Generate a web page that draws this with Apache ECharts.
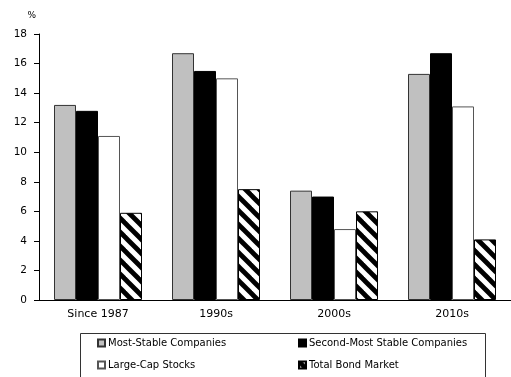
<!DOCTYPE html>
<html>
<head>
<meta charset="utf-8">
<script src="https://cdn.jsdelivr.net/npm/echarts@6/dist/echarts.min.js"></script>
<style>
html,body{margin:0;padding:0;background:#fff;}
#chart{width:511px;height:377px;}
</style>
</head>
<body>
<div id="chart"></div>
<script>
var categories = ['Since 1987', '1990s', '2000s', '2010s'];
var mostStable = [13.2, 16.7, 7.4, 15.3];
var secondMost = [12.8, 15.5, 7.0, 16.7];
var largeCap = [11.1, 15.0, 4.8, 13.1];
var bondMarket = [5.9, 7.5, 6.0, 4.1];
var seriesNames = ['Most-Stable Companies', 'Second-Most Stable Companies', 'Large-Cap Stocks', 'Total Bond Market'];
var yTicks = {min: 0, max: 18, interval: 2};

function makeHatch() {
  var s = 14;
  var c = document.createElement('canvas');
  c.width = s; c.height = s;
  var ctx = c.getContext('2d');
  ctx.fillStyle = '#fff';
  ctx.fillRect(0, 0, s, s);
  ctx.strokeStyle = '#000';
  ctx.lineWidth = 4.8;
  for (var i = -1; i <= 1; i++) {
    ctx.beginPath();
    ctx.moveTo(i * s - 2, -2);
    ctx.lineTo(i * s + s + 2, s + 2);
    ctx.stroke();
  }
  return c;
}
var hatch = {image: makeHatch(), repeat: 'repeat'};

var font = 'DejaVu Sans';
var chart = echarts.init(document.getElementById('chart'), null, {renderer: 'canvas'});

function bar(name, data, color, border) {
  return {
    name: name,
    type: 'bar',
    data: data,
    barWidth: 22,
    barGap: '0%',
    itemStyle: {color: color, borderColor: border, borderWidth: 1},
    emphasis: {disabled: true},
    animation: false
  };
}

function legendAt(name, left, top) {
  return {
    data: [name],
    left: left,
    top: top,
    padding: 0,
    icon: 'rect',
    itemWidth: 7,
    itemHeight: 7,
    selectedMode: false,
    textStyle: {fontFamily: font, fontSize: 10, color: '#000', padding: [0, 0, 0, -2]}
  };
}

chart.setOption({
  animation: false,
  backgroundColor: '#fff',
  grid: {left: 39, top: 34, width: 480, height: 266, containLabel: false},
  xAxis: {
    type: 'category',
    data: categories,
    axisLine: {lineStyle: {color: '#000', width: 1}},
    axisTick: {show: false},
    axisLabel: {fontFamily: font, fontSize: 11, color: '#000', margin: 9}
  },
  yAxis: {
    type: 'value',
    min: yTicks.min,
    max: yTicks.max,
    interval: yTicks.interval,
    name: '%',
    nameLocation: 'end',
    nameGap: 14,
    nameTextStyle: {fontFamily: font, fontSize: 9, color: '#000', align: 'right', padding: [0, 3, 0, 0]},
    axisLine: {show: true, lineStyle: {color: '#000', width: 1}},
    axisTick: {show: true, inside: false, length: 5, lineStyle: {color: '#000'}},
    axisLabel: {fontFamily: font, fontSize: 10.5, color: '#000', margin: 12},
    splitLine: {show: false}
  },
  legend: [
    legendAt(seriesNames[0], 97, 338),
    legendAt(seriesNames[1], 298, 338),
    legendAt(seriesNames[2], 97, 360),
    legendAt(seriesNames[3], 298, 360)
  ],
  graphic: [{
    type: 'rect',
    shape: {x: 80.5, y: 333.5, width: 405, height: 60},
    style: {fill: 'none', stroke: '#333', lineWidth: 1},
    silent: true
  }],
  series: [
    bar(seriesNames[0], mostStable, '#c0c0c0', '#333'),
    bar(seriesNames[1], secondMost, '#000', '#000'),
    bar(seriesNames[2], largeCap, '#fff', '#555'),
    bar(seriesNames[3], bondMarket, hatch, '#000')
  ]
});
</script>
</body>
</html>
